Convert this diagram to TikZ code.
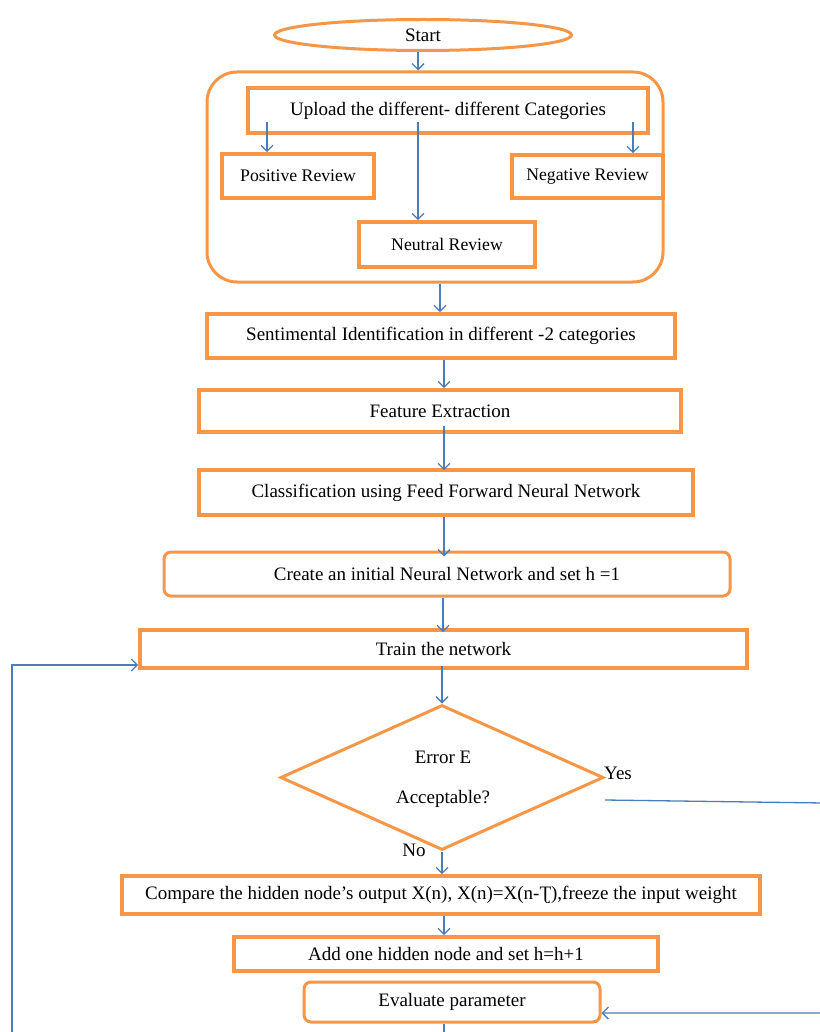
\documentclass[tikz,border=0pt]{standalone}
\usepackage{fontspec}
\setmainfont{Liberation Serif}
\usetikzlibrary{shapes.geometric,arrows.meta}
\definecolor{org}{HTML}{F79646}
\definecolor{blu}{HTML}{4A7EBB}
\tikzset{
  box/.style={draw=org, line width=3.6pt, rectangle, inner sep=0pt, font=\fontsize{19}{22}\selectfont},
  rbox/.style={box, line width=3pt, rounded corners=7pt},
  rev/.style={box, font=\fontsize{17.7}{21}\selectfont},
  arr/.style={draw=blu, line width=1.3pt, -{Straight Barb[length=6pt,width=12pt,line width=1.3pt]}},
  ln/.style={draw=blu, line width=1.3pt},
  lbl/.style={font=\fontsize{19}{22}\selectfont, inner sep=0pt}
}
\begin{document}
\begin{tikzpicture}[x=1pt,y=-1pt]
\useasboundingbox (0,0) rectangle (819,1032);
\fill[white] (0,0) rectangle (819,1032);
% nodes
\node[draw=org, line width=3pt, ellipse, minimum width=297pt, minimum height=31pt, inner sep=0pt, font=\fontsize{19}{22}\selectfont] (start) at (423,35) {Start};
\node[draw=org, line width=3pt, rounded corners=30pt, minimum width=456pt, minimum height=210pt, inner sep=0pt] (cont) at (435,177) {};
\node[box, minimum width=400pt, minimum height=45pt] (upload) at (448,110.5) {Upload the different- different Categories};
\node[rev, minimum width=152pt, minimum height=44pt] (pos) at (298,176) {Positive Review};
\node[rev, minimum width=151pt, minimum height=43pt] (neg) at (587.5,176.5) {Negative Review};
\node[rev, minimum width=176pt, minimum height=45pt] (neu) at (447,244.5) {Neutral Review};
\node[box, minimum width=468pt, minimum height=44pt] (sent) at (441,336) {Sentimental Identification in different -2 categories};
\node[box, minimum width=482pt, minimum height=42pt] (feat) at (440,411) {Feature Extraction};
\node[box, minimum width=494pt, minimum height=45pt] (cls) at (446,492.5) {Classification using Feed Forward Neural Network};
\node[rbox, minimum width=566pt, minimum height=44pt] (create) at (447,574) {Create an initial Neural Network and set h =1};
\node[box, minimum width=607pt, minimum height=38pt] (train) at (443.5,649) {Train the network};
\node[draw=org, line width=3pt, diamond, minimum width=323pt, minimum height=145pt, inner sep=0pt] (dia) at (442,777.5) {};
\node[lbl] (err) at (443,757) {Error E};
\node[lbl] (acc) at (443,799) {Acceptable?};
\node[lbl, anchor=west] (yes) at (604,773) {Yes};
\node[lbl] (no) at (414,850) {No};
\node[box, minimum width=638pt, minimum height=38pt] (comp) at (441,895) {Compare the hidden node’s output X(n), X(n)=X(n-Ʈ),freeze the input weight};
\node[box, minimum width=424pt, minimum height=34pt] (add) at (446,954) {Add one hidden node and set h=h+1};
\node[rbox, minimum width=296pt, minimum height=40pt] (eval) at (452,1002) {Evaluate parameter};
% coordinates
\coordinate (u1) at (267,122);
\coordinate (u2) at (418,122);
\coordinate (u3) at (633,122);
\coordinate (ys) at (605,800);
\coordinate (yc) at (824,803);
\coordinate (ev) at (eval.east |- 0,1013);
\coordinate (lb) at (12,1040);
\coordinate (lt) at (12,665);
\coordinate (bot) at (444,1040);
% connectors
\draw[arr] (start.south -| 418,0) -- (cont.north -| 418,0);
\draw[arr] (u1) -- (u1 |- pos.north);
\draw[arr] (u2) -- (u2 |- neu.north);
\draw[arr] (u3) -- (u3 |- neg.north);
\draw[arr] (cont.south -| 440,0) -- (sent.north -| 440,0);
\draw[arr] (sent.south -| 444,0) -- (feat.north -| 444,0);
\draw[arr] ([yshift=8pt]feat.south -| 444,0) -- ([yshift=-2pt]cls.north -| 444,0);
\draw[arr] (cls.south -| 444,0) -- ([yshift=-6pt]create.north -| 444,0);
\draw[arr] (create.south -| 443,0) -- ([yshift=-4pt]train.north -| 443,0);
\draw[arr] ([yshift=4pt]train.south -| dia.north) -- (dia.north);
\draw[arr] (dia.south) -- (comp.north -| dia.south);
\draw[arr] (comp.south -| 444,0) -- (add.north -| 444,0);
\draw[arr] (ys) -- (yc) |- (ev);
\draw[arr] (lb) -- (lt) -- (lt -| train.west);
\draw[ln] (eval.south -| 444,0) -- (bot);
\end{tikzpicture}
\end{document}
